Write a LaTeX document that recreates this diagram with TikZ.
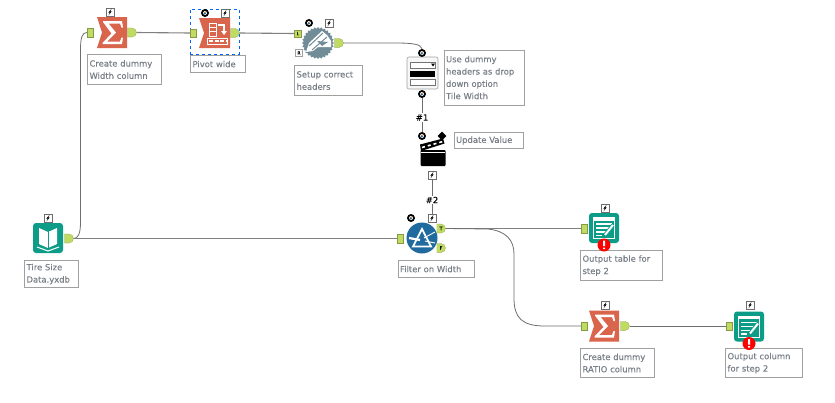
\documentclass[tikz,border=0pt]{standalone}
\usepackage{fontspec}
\setmainfont{DejaVu Sans}[FakeBold=0.35]
\usetikzlibrary{shapes, arrows, calc}
\definecolor{alteryxred}{HTML}{D9654C}
\definecolor{alteryxteal}{HTML}{0C9C88}
\definecolor{alteryxblue}{HTML}{1F6A9E}
\definecolor{geargrey}{HTML}{6F8C97}
\definecolor{portgreen}{HTML}{BFDB62}
\definecolor{notegrey}{HTML}{A0A0A0}
\definecolor{notetext}{HTML}{7A8088}
\definecolor{linegrey}{HTML}{6E6E6E}
% small icons
\newcommand{\sumicon}[3]{
	\node [inner sep=0pt, minimum size=30pt] at (#2,#3) (#1) {};
	\begin{scope}[shift={(#2,#3)}]
		\fill [alteryxred] (-15,-15.5) -- (15,-15.5) -- (15,15.5) -- (-15,15.5) -- (-10,0) -- cycle;
		\fill [white] (-9,-11.5) -- (10,-11.5) -- (11,-5) -- (9.5,-5) -- (8,-9) -- (-3.5,-9) -- (4,0) -- (-5,9) -- (8,9) -- (9.5,5) -- (11,5) -- (10,11.5) -- (-9.5,11.5) -- (-9.5,10.5) -- (-.5,1) -- (-9,-10.5) -- cycle;
	\end{scope}
}
\newcommand{\sheeticon}[3]{
	\node [inner sep=0pt, minimum size=30pt] at (#2,#3) (#1) {};
	\begin{scope}[shift={(#2,#3)}]
		\fill [alteryxteal, rounded corners=3pt] (-15,-15) rectangle (15,15);
		\draw [white, line width=1pt] (-10.5,-10.5) rectangle (10.5,10.5);
		\fill [white] (-10.5,-10.5) rectangle (10.5,-7.5);
		\draw [white, line width=1.4pt] (-8,-4) -- (8,-4) (-8,0) -- (5,0) (-8,4) -- (2,4) (-8,7.5) -- (-2,7.5);
		\draw [alteryxteal, line width=3.6pt] (0,8) -- (9,-3);
		\draw [white, line width=2pt] (1,7) -- (9,-3);
		\fill [red] (0,17) circle (6.5);
		\fill [white] (-1,12.5) rectangle (1,18) (-1,19.5) rectangle (1,21);
	\end{scope}
}
\newcommand{\boltbox}[3]{
	\node [draw=linegrey, fill=white, inner sep=0pt, minimum size=8pt, line width=.5pt] at (#2,#3) (#1) {};
	\fill [black] ($(#2,#3)+(1.7,-3.4)$) -- ($(#2,#3)+(-1.7,.6)$) -- ($(#2,#3)+(-.2,.6)$) -- ($(#2,#3)+(-1.5,3.4)$) -- ($(#2,#3)+(1.7,-.6)$) -- ($(#2,#3)+(.2,-.6)$) -- cycle;
}
\newcommand{\anchordot}[3]{
	\node [circle, fill=black, inner sep=0pt, minimum size=8pt] at (#2,#3) (#1) {};
	\fill [white] (#2,#3) circle (2);
	\fill [alteryxblue] (#2-.2,#3+.3) circle (1.3);
	\fill [orange] (#2+.6,#3-1) circle (.7);
}
\begin{document}
\begin{tikzpicture}[x=1pt, y=-1pt]
		\tikzstyle{notebox} = [rectangle, draw=notegrey, line width=1.1pt, fill=white, inner sep=2pt, align=left, anchor=north west, text=notetext, font=\fontsize{8.4}{12.3}\selectfont]
		\tikzstyle{connector} = [draw=linegrey, line width=.8pt]
		\tikzstyle{thickconnector} = [draw=black!50, line width=1.1pt]
		\tikzstyle{inport} = [rectangle, fill=portgreen, draw=portgreen!70!black, line width=.2pt, inner sep=0pt, minimum width=6pt, minimum height=8.5pt]
		\tikzstyle{outport} = [rounded rectangle, rounded rectangle west arc=none, fill=portgreen, draw=portgreen!70!black, line width=.2pt, inner sep=0pt, minimum width=7pt, minimum height=9pt, font=\fontsize{5}{5}\selectfont]
		\tikzstyle{hashlabel} = [inner sep=1pt, font=\fontsize{8.5}{10}\selectfont, text=black]
		\useasboundingbox (0,0) rectangle (835,402);
		\fill [white] (0,0) rectangle (835,402);

		\node [notebox, minimum width=74pt, minimum height=30pt, text width=70pt] at (87,54) (sumnote) {Create dummy\\Width column};
		\sumicon{widthsum}{112}{32.5}
		\node [inport] at (90,32.5) (widthin) {};
		\node [outport] at (132,32.5) (widthout) {};
		\boltbox{widthbolt}{110}{12}

		% pivot with its selection frame
		\node [draw=blue!60!cyan, dashed, line width=.6pt, inner sep=0pt, minimum width=49pt, minimum height=45pt] at (214.5,31.5) (pivotframe) {};
		\node [notebox, minimum width=55pt, minimum height=17pt, text width=51pt] at (190,55) (pivotnote) {Pivot wide};
		\fill [alteryxred] (199,18) -- (230,18) -- (230,48) -- (199,48) -- (204,33) -- cycle;
		\node [inner sep=0pt, minimum size=28pt] at (215,33) (pivotbody) {};
		\draw [white, line width=1pt] (209,23) rectangle (216,36);
		\draw [white, line width=1pt] (209,27) -- (216,27) (209,31.5) -- (216,31.5);
		\draw [white, line width=1.2pt] (218,25) -- (224,25) -- (224,32);
		\fill [white] (221,31) -- (227,31) -- (224,35) -- cycle;
		\draw [white, line width=.9pt] (207,38) rectangle (227,44);
		\draw [white, line width=1.2pt, dash pattern=on 4pt off 1.5pt] (209,41) -- (226,41);
		\node [inport] at (193,33) (pivotin) {};
		\node [outport] at (235,33) (pivotout) {};
		\anchordot{pivotdot}{205}{13}
		\boltbox{pivotbolt}{225}{13}

		\node [notebox, minimum width=68pt, minimum height=30pt, text width=64pt] at (294,65) (setupnote) {Setup correct\\headers};
		\node [star, star points=28, star point ratio=1.12, fill=geargrey, inner sep=0pt, minimum size=32pt] at (318,43) (setupgear) {};
		\fill [white] (306,52) -- (309,43) -- (322,31) -- (327,35) -- (331,41) -- (331,47) -- (318,47) -- (313,51) -- cycle;
		\draw [geargrey, line width=1pt] (309,46) -- (323,33) (312,50) -- (327,37);
		\fill [geargrey] (317,41) -- (328,42) -- (322,46) -- cycle;
		\node [inport, minimum width=7pt, minimum height=7pt, font=\fontsize{4.5}{4.5}\selectfont] at (298,33.5) (setupleft) {L};
		\node [inport, fill=white, draw=notegrey, minimum width=7pt, minimum height=7pt, font=\fontsize{4.5}{4.5}\selectfont] at (299,53) (setupright) {R};
		\node [outport] at (339,43) (setupout) {};
		\anchordot{setupdot}{309}{23}
		\boltbox{setupbolt}{329}{23}

		% drop down
		\node [rectangle, rounded corners=2pt, draw=notegrey, fill=black!3, line width=.6pt, inner sep=0pt, minimum width=31pt, minimum height=32pt] at (422.5,73) (dropdown) {};
		\draw [black!55, fill=white, line width=.4pt] (410,62) rectangle (435,68);
		\fill [black] (431,63.5) -- (435,63.5) -- (433,66.5) -- cycle;
		\fill [black] (410,71) rectangle (435,77);
		\draw [black!55, fill=white, line width=.4pt] (410,79) rectangle (435,85);
		\node [notebox, minimum width=80pt, minimum height=55pt, text width=76pt] at (443.5,49.5) (dropnote) {Use dummy\\headers as drop\\down option\\Tile Width};
		\anchordot{droptop}{422}{53}
		\anchordot{dropbottom}{422}{94}
		\node [hashlabel] at (422,117.5) (hashone) {\#1};

		% update value
		\node [inner sep=0pt, minimum width=26pt, minimum height=24pt] at (433,154) (clapper) {};
		\fill [black, rounded corners=1pt] (420.5,150) rectangle (445.5,166);
		\fill [black] (420,144.5) -- (443,138.5) -- (444.5,143.5) -- (421,151) -- cycle;
		\draw [white, line width=1.6pt, dash pattern=on 3pt off 3pt] (422,147.5) -- (443,141.5);
		\draw [white, line width=.5pt] (421,152) -- (445,152);
		\anchordot{updatedot}{422}{136}
		\node [diamond, fill=black, inner sep=0pt, minimum size=9pt] at (442,136) (updatediamond) {};
		\node [notebox, minimum width=69pt, minimum height=16pt, text width=65pt] at (453.5,132) (updatenote) {Update Value};
		\boltbox{updatebolt}{432}{175}
		\node [hashlabel] at (432,200) (hashtwo) {\#2};

		% filter
		\node [notebox, minimum width=76pt, minimum height=17pt, text width=72pt] at (397.5,260) (filternote) {Filter on Width};
		\node [circle, fill=alteryxblue, inner sep=0pt, minimum size=31pt] at (422,238) (filterbody) {};
		\draw [white, line width=1.8pt, line join=miter] (422,229) -- (413,246.5) -- (431,246.5) -- cycle;
		\draw [white, line width=2.2pt] (409,238) -- (420,240);
		\draw [white, line width=.9pt] (424,238) -- (435,232) (425,241) -- (435,243);
		\node [inport] at (400,238.5) (filterin) {};
		\node [outport] at (441,228.5) (filtertrue) {T};
		\node [outport] at (441,248) (filterfalse) {F};
		\anchordot{filterdot}{411}{218}
		\boltbox{filterbolt}{432}{218}

		% tire input
		\node [notebox, minimum width=54pt, minimum height=27pt, text width=50pt] at (24,260) (tirenote) {Tire Size\\Data.yxdb};
		\node [rectangle, rounded corners=3pt, fill=alteryxteal, inner sep=0pt, minimum size=30pt] at (48,238) (tirebook) {};
		\fill [white] (48,232) -- (39,228) -- (39,244) -- (48,248) -- cycle;
		\fill [white] (48,232) -- (57,228) -- (57,244) -- (48,248) -- cycle;
		\draw [alteryxteal, line width=.8pt] (48,231) -- (48,249);
		\draw [white, line width=1pt] (37,247) -- (48,251) -- (59,247);
		\node [outport] at (69,238.5) (tireout) {};
		\boltbox{tirebolt}{48}{218}

		% outputs
		\node [notebox, minimum width=82pt, minimum height=30pt, text width=78pt] at (580,250) (tablenote) {Output table for\\step 2};
		\sheeticon{tablesheet}{604}{228}
		\node [inport] at (584,228.5) (tablein) {};
		\boltbox{tablebolt}{605}{208}

		\node [notebox, minimum width=74pt, minimum height=29pt, text width=70pt] at (580,348) (rationote) {Create dummy\\RATIO column};
		\sumicon{ratiosum}{604}{326}
		\node [inport] at (584,326) (ratioin) {};
		\node [outport] at (625,326) (ratioout) {};
		\boltbox{ratiobolt}{605}{305}

		\node [notebox, minimum width=77pt, minimum height=29pt, text width=73pt] at (725,348) (columnnote) {Output column\\for step 2};
		\sheeticon{columnsheet}{749}{326.5}
		\node [inport] at (729,326) (columnin) {};
		\boltbox{columnbolt}{750}{305}

		% connectors
		\coordinate (bendtop) at (80.5,50);
		\coordinate (bendlow) at (80.5,222);
		\coordinate (filterbendtop) at (514,254);
		\coordinate (filterbendlow) at (514,298);
		\coordinate (setupbend) at (395,43);
		\coordinate (filterbendin) at (488,229);
		\coordinate (ratiobend) at (545,326);
		\path [connector] (tireout.east) .. controls (78,238.5) and (80.5,234) .. (bendlow) -- (bendtop) .. controls (80.5,38) and (82,32.5) .. (widthin.west);
		\path [thickconnector] (tireout.east) -- (filterin.west);
		\path [thickconnector] (widthout.east) -- (pivotin.west);
		\path [thickconnector] (pivotout.east) -- (setupleft.west);
		\path [connector] (setupout.east) -- (setupbend) .. controls (412,43) and (421,44) .. (droptop.north);
		\path [thickconnector] (filtertrue.east) -- (tablein.west);
		\path [connector] (filtertrue.east) -- (filterbendin) .. controls (506,231) and (514,240) .. (filterbendtop) -- (filterbendlow) .. controls (514,318) and (522,326) .. (ratiobend) -- (ratioin.west);
		\path [connector] (ratioout.east) -- (columnin.west);
		\path [connector] (dropbottom) -- (hashone);
		\path [connector] (hashone) -- (updatedot);
		\path [connector] (updatebolt) -- (hashtwo);
		\path [connector] (hashtwo) -- (filterbolt);
	\end{tikzpicture}
\end{document}
